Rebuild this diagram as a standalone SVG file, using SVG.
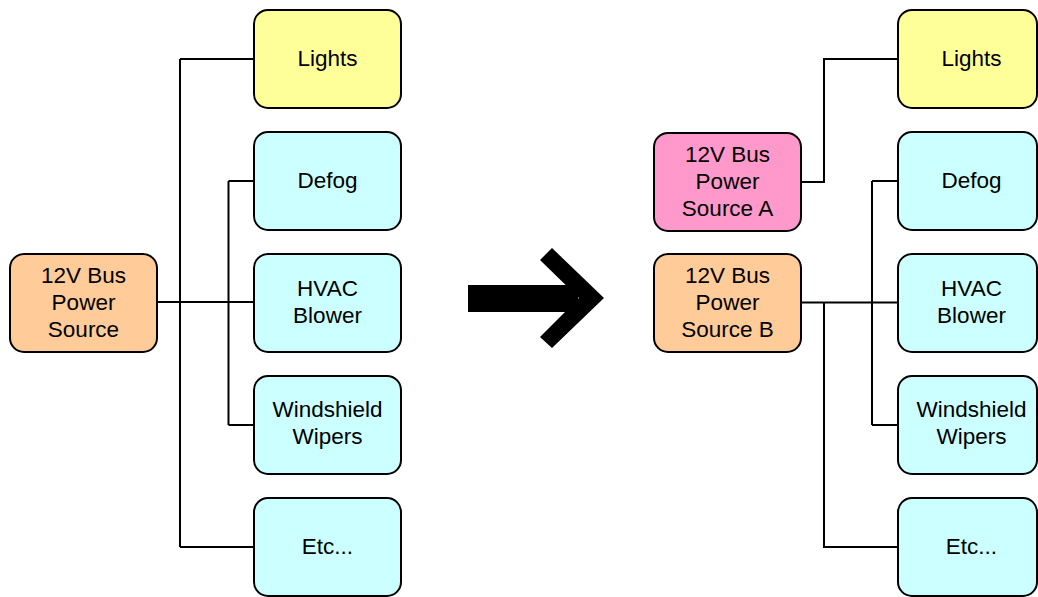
<svg xmlns="http://www.w3.org/2000/svg" width="1038" height="597" viewBox="0 0 1038 597">
  <style>
    .box { stroke: #000; stroke-width: 2; }
    .src { fill: #FFCC99; }
    .srcA { fill: #FF99CC; }
    .light { fill: #FFFF99; }
    .load { fill: #CCFFFF; }
    .wire { fill: none; stroke: #000; stroke-width: 2; }
    text { font-family: "Liberation Sans", Arial, sans-serif; font-size: 22.5px; fill: #000; text-anchor: middle; }
  </style>
  <rect width="1038" height="597" fill="#fff"/>

  <!-- wiring: single bus feeding every load -->
  <g id="connectors-left">
    <path class="wire" d="M157,302 H254"/>
    <path class="wire" d="M180,59 V547"/>
    <path class="wire" d="M180,59 H254"/>
    <path class="wire" d="M180,547 H254"/>
    <path class="wire" d="M228.5,181 V425"/>
    <path class="wire" d="M228.5,181 H254"/>
    <path class="wire" d="M228.5,425 H254"/>
  </g>

  <!-- wiring: split bus, source A on lights only -->
  <g id="connectors-right">
    <path class="wire" d="M801,182 H824 V59 H898"/>
    <path class="wire" d="M801,302.5 H898"/>
    <path class="wire" d="M824,302.5 V547 H898"/>
    <path class="wire" d="M872,181 V425"/>
    <path class="wire" d="M872,181 H898"/>
    <path class="wire" d="M872,425 H898"/>
  </g>

  <!-- left: single source -->
  <g id="src-left">
    <rect class="box src" x="10" y="254" width="147" height="98" rx="14"/>
    <text x="83.5" y="282.5">12V Bus</text>
    <text x="83.5" y="309.5">Power</text>
    <text x="83.5" y="336.5">Source</text>
  </g>
  <g id="lights-left">
    <rect class="box light" x="254" y="10" width="147" height="98" rx="14"/>
    <text x="327.5" y="66">Lights</text>
  </g>
  <g id="defog-left">
    <rect class="box load" x="254" y="132" width="147" height="98" rx="14"/>
    <text x="327.5" y="188">Defog</text>
  </g>
  <g id="hvac-left">
    <rect class="box load" x="254" y="254" width="147" height="98" rx="14"/>
    <text x="327.5" y="295.5">HVAC</text>
    <text x="327.5" y="322.5">Blower</text>
  </g>
  <g id="wipers-left">
    <rect class="box load" x="254" y="376" width="147" height="98" rx="14"/>
    <text x="327.5" y="417">Windshield</text>
    <text x="327.5" y="444">Wipers</text>
  </g>
  <g id="etc-left">
    <rect class="box load" x="254" y="498" width="147" height="98" rx="14"/>
    <text x="327.5" y="554">Etc...</text>
  </g>

  <!-- transition arrow -->
  <g id="arrow">
    <rect x="468" y="285" width="110" height="27" fill="#000"/>
    <polygon points="552,248 604,298 552,348 540,337 579,298 540,260" fill="#000"/>
  </g>

  <!-- right: two sources -->
  <g id="src-a">
    <rect class="box srcA" x="654" y="133" width="147" height="98" rx="14"/>
    <text x="727.5" y="161.5">12V Bus</text>
    <text x="727.5" y="188.5">Power</text>
    <text x="727.5" y="215.5">Source A</text>
  </g>
  <g id="src-b">
    <rect class="box src" x="654" y="254" width="147" height="98" rx="14"/>
    <text x="727.5" y="282.5">12V Bus</text>
    <text x="727.5" y="309.5">Power</text>
    <text x="727.5" y="336.5">Source B</text>
  </g>
  <g id="lights-right">
    <rect class="box light" x="898" y="10" width="139" height="98" rx="14"/>
    <text x="971.5" y="66">Lights</text>
  </g>
  <g id="defog-right">
    <rect class="box load" x="898" y="132" width="139" height="98" rx="14"/>
    <text x="971.5" y="188">Defog</text>
  </g>
  <g id="hvac-right">
    <rect class="box load" x="898" y="254" width="139" height="98" rx="14"/>
    <text x="971.5" y="295.5">HVAC</text>
    <text x="971.5" y="322.5">Blower</text>
  </g>
  <g id="wipers-right">
    <rect class="box load" x="898" y="376" width="139" height="98" rx="14"/>
    <text x="971.5" y="417">Windshield</text>
    <text x="971.5" y="444">Wipers</text>
  </g>
  <g id="etc-right">
    <rect class="box load" x="898" y="498" width="139" height="98" rx="14"/>
    <text x="971.5" y="554">Etc...</text>
  </g>
</svg>
